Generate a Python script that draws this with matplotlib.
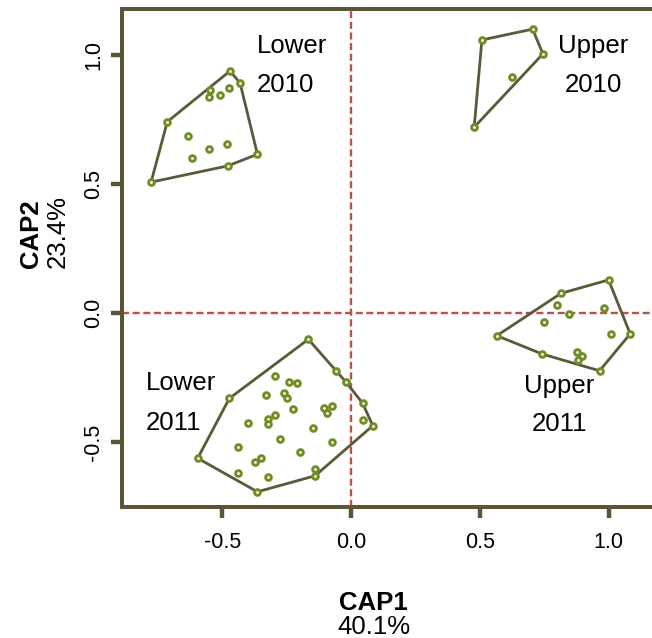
import matplotlib

matplotlib.use("Agg")
import matplotlib.pyplot as plt
import numpy as np

plt.rcParams["font.family"] = ["Liberation Sans", "DejaVu Sans"]
plt.rcParams["axes.unicode_minus"] = False

# CAP scores
lower_2010_x = [-0.470, -0.431, -0.548, -0.552, -0.509, -0.473, -0.714,
                -0.632, -0.483, -0.551, -0.618, -0.364, -0.479, -0.777]
lower_2010_y = [0.938, 0.890, 0.864, 0.838, 0.845, 0.871, 0.741,
                0.686, 0.655, 0.634, 0.602, 0.615, 0.570, 0.507]

upper_2010_x = [0.508, 0.705, 0.745, 0.625, 0.478]
upper_2010_y = [1.058, 1.100, 1.004, 0.914, 0.720]

upper_2011_x = [1.000, 0.815, 0.800, 0.845, 0.981, 0.751, 0.566,
                1.010, 1.084, 0.742, 0.877, 0.897, 0.881, 0.965]
upper_2011_y = [0.128, 0.076, 0.031, -0.005, 0.018, -0.034, -0.088,
                -0.081, -0.081, -0.159, -0.150, -0.167, -0.182, -0.224]

lower_2011_x = [-0.166, -0.059, -0.019, 0.045, 0.084, 0.045, -0.473,
                -0.596, -0.364, -0.140, -0.140, -0.294, -0.240, -0.209,
                -0.330, -0.259, -0.250, -0.224, -0.104, -0.073, -0.094,
                -0.399, -0.321, -0.295, -0.321, -0.150, -0.276, -0.074,
                -0.438, -0.198, -0.350, -0.373, -0.438, -0.324]
lower_2011_y = [-0.102, -0.225, -0.269, -0.350, -0.437, -0.415, -0.331,
                -0.563, -0.693, -0.606, -0.631, -0.244, -0.269, -0.272,
                -0.318, -0.309, -0.328, -0.372, -0.367, -0.360, -0.386,
                -0.428, -0.412, -0.397, -0.430, -0.445, -0.487, -0.499,
                -0.518, -0.540, -0.563, -0.576, -0.619, -0.636]

group_sites = ["Lower", "Upper", "Lower", "Upper"]
group_years = ["2010", "2010", "2011", "2011"]

ticks = [-0.5, 0.0, 0.5, 1.0]
cap1_label = ("CAP1", "40.1%")
cap2_label = ("CAP2", "23.4%")

SPINE = "#5b5536"
HULL = "#5c5838"
POINT_EDGE = "#6f8c26"
POINT_FACE = "#eef2d6"
REF_LINE = "#b8524c"


def convex_hull(xs, ys):
    pts = sorted(set(zip(xs, ys)))

    def cross(o, a, b):
        return (a[0] - o[0]) * (b[1] - o[1]) - (a[1] - o[1]) * (b[0] - o[0])

    lower, upper = [], []
    for p in pts:
        while len(lower) >= 2 and cross(lower[-2], lower[-1], p) <= 0:
            lower.pop()
        lower.append(p)
    for p in reversed(pts):
        while len(upper) >= 2 and cross(upper[-2], upper[-1], p) <= 0:
            upper.pop()
        upper.append(p)
    hull = lower[:-1] + upper[:-1]
    hull.append(hull[0])
    return np.array(hull)


fig = plt.figure(figsize=(6.52, 6.38), dpi=100)
ax = fig.add_axes([0.1871, 0.2053, 0.845, 0.7806])
ax.set_xlim(-0.89, 1.25)
ax.set_ylim(-0.752, 1.178)

ax.axhline(0, color=REF_LINE, lw=1.7, dashes=(3.0, 1.5), zorder=1)
ax.axvline(0, color=REF_LINE, lw=1.7, dashes=(3.0, 1.5), zorder=1)

groups = [
    (lower_2010_x, lower_2010_y),
    (upper_2010_x, upper_2010_y),
    (lower_2011_x, lower_2011_y),
    (upper_2011_x, upper_2011_y),
]
for xs, ys in groups:
    hull = convex_hull(xs, ys)
    ax.plot(hull[:, 0], hull[:, 1], color=HULL, lw=2.0, zorder=2)
    ax.plot(xs, ys, "o", ms=4.2, mew=2.0, mec=POINT_EDGE, mfc=POINT_FACE,
            zorder=3, ls="none")

# group labels: (x, top baseline, bottom baseline, alignment)
label_pos = [(-0.365, 1.008, 0.857, "left"),
             (0.94, 1.008, 0.857, "center"),
             (-0.797, -0.298, -0.453, "left"),
             (0.808, -0.310, -0.457, "center")]
for site, year, (lx, y1, y2, ha) in zip(group_sites, group_years, label_pos):
    ax.text(lx, y1, site, fontsize=18.5, ha=ha, va="baseline")
    ax.text(lx, y2, year, fontsize=18.5, ha=ha, va="baseline")

ax.set_xticks(ticks)
ax.set_yticks(ticks)
ax.set_xticklabels([f"{t:.1f}" for t in ticks])
ax.set_yticklabels([f"{t:.1f}" for t in ticks], rotation=90, va="center")
ax.tick_params(axis="both", length=8, width=3.2, color=SPINE, labelsize=15.5)
ax.tick_params(axis="x", pad=10)
ax.tick_params(axis="y", pad=5)
for spine in ax.spines.values():
    spine.set_color(SPINE)
    spine.set_linewidth(2.9)

fig.text(0.572, 0.0439, cap1_label[0], fontsize=18.5, fontweight="bold",
         ha="center", va="baseline")
fig.text(0.574, 0.006, cap1_label[1], fontsize=18.5, ha="center",
         va="baseline")
fig.text(0.059, 0.58, cap2_label[0], fontsize=18.5, fontweight="bold",
         rotation=90, rotation_mode="anchor", ha="left", va="baseline")
fig.text(0.0995, 0.58, cap2_label[1], fontsize=18.5, rotation=90,
         rotation_mode="anchor", ha="left", va="baseline")

fig.savefig("out.png", dpi=100)
